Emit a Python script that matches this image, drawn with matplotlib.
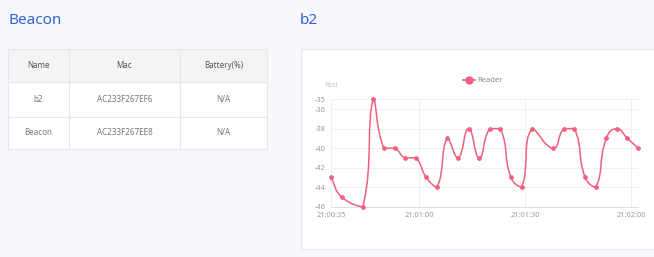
import numpy as np
import matplotlib
matplotlib.use("Agg")
import matplotlib.pyplot as plt
from matplotlib.path import Path
from matplotlib.patches import PathPatch, Rectangle
from matplotlib.lines import Line2D

plt.rcParams['font.family'] = ['Noto Sans', 'DejaVu Sans']

# data
times = ["21:00:35", "21:00:38", "21:00:44", "21:00:47", "21:00:50", "21:00:53",
         "21:00:56", "21:00:59", "21:01:02", "21:01:05", "21:01:08", "21:01:11",
         "21:01:14", "21:01:17", "21:01:20", "21:01:23", "21:01:26", "21:01:29",
         "21:01:32", "21:01:38", "21:01:41", "21:01:44", "21:01:47", "21:01:50",
         "21:01:53", "21:01:56", "21:01:59", "21:02:02"]
rssi = [-43, -45, -46, -35, -40, -40, -41, -41, -43, -44, -39, -41,
        -38, -41, -38, -38, -43, -44, -38, -40, -38, -38, -43, -44,
        -39, -38, -39, -40]
x_ticks = ["21:00:35", "21:01:00", "21:01:30", "21:02:00"]
y_ticks = [-35, -36, -38, -40, -42, -44, -46]

table_cols = ["Name", "Mac", "Battery(%)"]
table_rows = [["b2", "AC233F267EF6", "N/A"],
              ["Beacon", "AC233F267EE8", "N/A"]]

PINK = "#f25f7f"
BLUE = "#2f62d6"
BG = "#f7f8fc"
W, H = 654, 257


def secs(s):
    h, m, sec = map(int, s.split(":"))
    return h * 3600 + m * 60 + sec


t0 = secs(times[0])
xs = np.array([secs(s) - t0 for s in times], dtype=float)
ys = np.array(rssi, dtype=float)


def fx(px):
    return px / W


def fy(py):
    return 1 - py / H


fig = plt.figure(figsize=(W / 100, H / 100), dpi=100, facecolor=BG)

# titles
fig.text(fx(8), fy(20), "Beacon", color=BLUE, fontsize=11, va="center", ha="left")
fig.text(fx(300), fy(20), "b2", color=BLUE, fontsize=11, va="center", ha="left")

# table
tax = fig.add_axes([fx(8), fy(149), fx(267) - fx(8), fy(49) - fy(149)])
tax.axis("off")
cells = [table_cols] + table_rows
tbl = tax.table(cellText=cells, bbox=[0, 0, 1, 1], cellLoc="center",
                colWidths=[61, 111, 87])
tbl.auto_set_font_size(False)
for (r, c), cell in tbl.get_celld().items():
    cell.set_edgecolor("#e6e6e6")
    cell.set_linewidth(0.8)
    cell.set_facecolor("#f4f4f4" if r == 0 else "white")
    cell.get_text().set_fontsize(5.8)
    cell.get_text().set_color("#555555" if r == 0 else "#777777")
    cell.set_height([33, 34, 32][r] / 99)

# chart card (behind the axes)
fig.patches.append(Rectangle((fx(300.5), fy(249)), fx(360), fy(49) - fy(249),
                             transform=fig.transFigure, facecolor="white",
                             edgecolor="#e4e6ea", linewidth=0.8, zorder=-1))

ax = fig.add_axes([fx(331), fy(206.7), fx(638) - fx(331), fy(99.3) - fy(206.7)])
ax.set_facecolor("white")
ax.set_xlim(0, 87)
ax.set_ylim(-46, -35)

# smooth line like echarts (smooth=0.5, clamped control points), built in pixel space
sx = (638 - 331) / 87.0
sy = (206.7 - 99.3) / 11.0
px, py = xs * sx, ys * sy
n = len(px)
smooth = 0.5
verts = [(px[0], py[0])]
codes = [Path.MOVETO]
cp_out = []
cp_in = []
for i in range(n):
    pi = max(i - 1, 0)
    ni = min(i + 1, n - 1)
    vx, vy = px[ni] - px[pi], py[ni] - py[pi]
    l0 = np.hypot(px[i] - px[pi], py[i] - py[pi])
    l1 = np.hypot(px[ni] - px[i], py[ni] - py[i])
    r = l1 / (l0 + l1) if (l0 + l1) > 0 else 0.5
    ix = px[i] - vx * smooth * (1 - r)
    iy = py[i] - vy * smooth * (1 - r)
    ox = px[i] + vx * smooth * r
    oy = py[i] + vy * smooth * r
    ix = min(max(ix, min(px[pi], px[i])), max(px[pi], px[i]))
    iy = min(max(iy, min(py[pi], py[i])), max(py[pi], py[i]))
    ox = min(max(ox, min(px[ni], px[i])), max(px[ni], px[i]))
    oy = min(max(oy, min(py[ni], py[i])), max(py[ni], py[i]))
    cp_in.append((ix, iy))
    cp_out.append((ox, oy))
for i in range(1, n):
    verts += [cp_out[i - 1], cp_in[i], (px[i], py[i])]
    codes += [Path.CURVE4] * 3
verts = [(vx_ / sx, vy_ / sy) for vx_, vy_ in verts]
ax.add_patch(PathPatch(Path(verts, codes), facecolor="none", edgecolor=PINK,
                       linewidth=1.1, zorder=3, clip_on=False))
ax.plot(xs, ys, linestyle="none", marker="o", markersize=2.4, color=PINK,
        zorder=4, clip_on=False)

# axes styling
tick_pos = [secs(s) - t0 for s in x_ticks]
ax.set_xticks(tick_pos)
ax.set_xticklabels(x_ticks)
ax.set_yticks(y_ticks)
ax.set_yticklabels([str(v) for v in y_ticks])
ax.tick_params(length=0, labelsize=5.3, labelcolor="#9a9a9a", pad=4)
ax.grid(True, color="#f0f0f0", linewidth=0.7)
ax.set_axisbelow(True)
for side in ["top", "right"]:
    ax.spines[side].set_visible(False)
ax.spines["left"].set_color("#eeeeee")
ax.spines["bottom"].set_color("#dddddd")
ax.spines["left"].set_linewidth(0.7)
ax.spines["bottom"].set_linewidth(0.7)

ax.text(-0.0, 1.133, "Rssi", transform=ax.transAxes, ha="center", va="center",
        fontsize=5.3, color="#c8c8c8")
handle = Line2D([], [], color=PINK, linewidth=1.2, marker="o", markersize=5)
ax.legend([handle], ["Reader"], loc="center", bbox_to_anchor=(0.495, 1.173),
          frameon=False, fontsize=5.5, handlelength=1.6, handletextpad=0.3,
          labelcolor="#888888")

fig.savefig("out.png", dpi=100, facecolor=BG)
